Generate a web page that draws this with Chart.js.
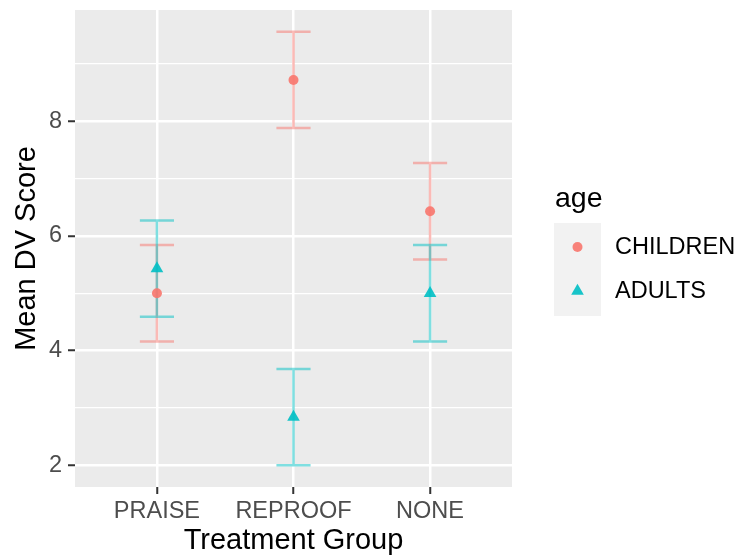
<!DOCTYPE html>
<html>
<head>
<meta charset="utf-8">
<script src="https://cdn.jsdelivr.net/npm/chart.js@4/dist/chart.umd.min.js"></script>
<style>
  html, body { margin: 0; padding: 0; background: #ffffff; }
  #wrap { width: 740px; height: 555px; }
</style>
</head>
<body>
<div id="wrap"><canvas id="chart" width="740" height="555"></canvas></div>
<script>
// Treatment groups and age levels
const groups = ['PRAISE', 'REPROOF', 'NONE'];
const ageLevels = ['CHILDREN', 'ADULTS'];

// Means and standard errors
const childrenMean = [5.00, 8.72, 6.43];
const childrenSE = [0.84, 0.84, 0.84];
const adultsMean = [5.43, 2.84, 5.00];
const adultsSE = [0.84, 0.84, 0.84];

// Axis ticks
const yTicks = [2, 4, 6, 8];
const yMinorTicks = [3, 5, 7, 9];

const colChildren = '#F8766D';
const colAdults = '#00BFC4';

function toPoints(means) {
    return groups.map((g, i) => ({ x: i + 1, y: means[i] }));
}

function withAlpha(hex, a) {
    const n = parseInt(hex.slice(1), 16);
    return 'rgba(' + (n >> 16) + ',' + ((n >> 8) & 255) + ',' + (n & 255) + ',' + a + ')';
}

// Grey panel background
const panelBg = {
    id: 'panelBg',
    beforeDraw(chart) {
        const a = chart.chartArea;
        const ctx = chart.ctx;
        ctx.save();
        ctx.fillStyle = '#EBEBEB';
        ctx.fillRect(a.left, a.top, a.right - a.left, a.bottom - a.top);
        ctx.restore();
    }
};

// Error bars drawn under the points
const errorBars = {
    id: 'errorBars',
    beforeDatasetsDraw(chart) {
        const ctx = chart.ctx;
        const xs = chart.scales.x;
        const ys = chart.scales.y;
        ctx.save();
        chart.data.datasets.forEach(ds => {
            ctx.strokeStyle = withAlpha(ds.baseColor, 0.5);
            ctx.lineWidth = 2.5;
            ds.data.forEach((p, i) => {
                const lo = ys.getPixelForValue(p.y - ds.se[i]);
                const hi = ys.getPixelForValue(p.y + ds.se[i]);
                const xc = xs.getPixelForValue(p.x);
                const x0 = xs.getPixelForValue(p.x - 0.125);
                const x1 = xs.getPixelForValue(p.x + 0.125);
                ctx.beginPath();
                ctx.moveTo(xc, lo);
                ctx.lineTo(xc, hi);
                ctx.moveTo(x0, lo);
                ctx.lineTo(x1, lo);
                ctx.moveTo(x0, hi);
                ctx.lineTo(x1, hi);
                ctx.stroke();
            });
        });
        ctx.restore();
    }
};

// ggplot-like legend with grey key background
const ggLegend = {
    id: 'ggLegend',
    afterDraw(chart) {
        const ctx = chart.ctx;
        ctx.save();
        ctx.fillStyle = '#000000';
        ctx.font = '28.5px "Liberation Sans", Arial, sans-serif';
        ctx.textAlign = 'left';
        ctx.textBaseline = 'alphabetic';
        ctx.fillText('age', 555, 207);
        ctx.fillStyle = '#F2F2F2';
        ctx.fillRect(554, 223, 47, 93);
        ctx.font = '23.5px "Liberation Sans", Arial, sans-serif';
        ctx.textBaseline = 'middle';
        chart.data.datasets.forEach((ds, i) => {
            const y = 247 + i * 44;
            ctx.fillStyle = ds.backgroundColor;
            Chart.helpers.drawPoint(ctx, {
                pointStyle: ds.pointStyle, radius: ds.pointRadius, rotation: 0, borderWidth: 0
            }, 577.5, y);
            ctx.fillStyle = '#000000';
            ctx.fillText(ds.label, 615, y + 1);
        });
        ctx.restore();
    }
};

const tickFont = { family: '"Liberation Sans", Arial, sans-serif', size: 23.5 };
const titleFont = { family: '"Liberation Sans", Arial, sans-serif', size: 29, lineHeight: 1 };

function fixY(scale) {
    scale.width = 75;
    scale.paddingTop = 0;
    scale.paddingBottom = 0;
}

function fixX(scale) {
    scale.height = 68;
    scale.paddingLeft = 0;
    scale.paddingRight = 0;
}

new Chart(document.getElementById('chart').getContext('2d'), {
    type: 'scatter',
    data: {
        datasets: [
            {
                label: ageLevels[0],
                data: toPoints(childrenMean),
                se: childrenSE,
                baseColor: colChildren,
                backgroundColor: withAlpha(colChildren, 0.9),
                pointStyle: 'circle',
                pointRadius: 5,
                borderWidth: 0
            },
            {
                label: ageLevels[1],
                data: toPoints(adultsMean),
                se: adultsSE,
                baseColor: colAdults,
                backgroundColor: withAlpha(colAdults, 0.9),
                pointStyle: 'triangle',
                pointRadius: 7.3,
                borderWidth: 0
            }
        ]
    },
    options: {
        responsive: false,
        animation: false,
        events: [],
        layout: { padding: { left: 0, top: 10, right: 228, bottom: 0 } },
        plugins: {
            legend: { display: false },
            tooltip: { enabled: false }
        },
        scales: {
            x: {
                type: 'linear',
                min: 0.4,
                max: 3.6,
                afterBuildTicks: scale => {
                    scale.ticks = groups.map((g, i) => ({ value: i + 1 }));
                },
                afterFit: fixX,
                border: { display: false },
                grid: {
                    color: '#FFFFFF',
                    lineWidth: 2.5,
                    tickColor: '#333333',
                    tickWidth: 2,
                    tickLength: 7
                },
                ticks: {
                    color: '#4D4D4D',
                    font: tickFont,
                    padding: 3,
                    maxRotation: 0,
                    callback: v => groups[v - 1]
                },
                title: {
                    display: true,
                    text: 'Treatment Group',
                    color: '#000000',
                    font: titleFont,
                    padding: { top: 0, bottom: 0 }
                }
            },
            y: {
                type: 'linear',
                min: 1.622,
                max: 9.939,
                afterBuildTicks: scale => {
                    scale.ticks = yTicks.concat(yMinorTicks).sort((a, b) => a - b).map(v => ({ value: v }));
                },
                afterFit: fixY,
                border: { display: false },
                grid: {
                    color: '#FFFFFF',
                    lineWidth: ctx => yTicks.includes(ctx.tick.value) ? 2.5 : 1.2,
                    tickColor: ctx => yTicks.includes(ctx.tick.value) ? '#333333' : 'rgba(0,0,0,0)',
                    tickWidth: 2,
                    tickLength: 7
                },
                ticks: {
                    color: '#4D4D4D',
                    font: tickFont,
                    padding: 6,
                    callback: v => yTicks.includes(v) ? String(v) : ''
                },
                title: {
                    display: true,
                    text: 'Mean DV Score',
                    color: '#000000',
                    font: titleFont,
                    padding: { top: 12, bottom: 0 }
                }
            }
        }
    },
    plugins: [panelBg, errorBars, ggLegend]
});
</script>
</body>
</html>
